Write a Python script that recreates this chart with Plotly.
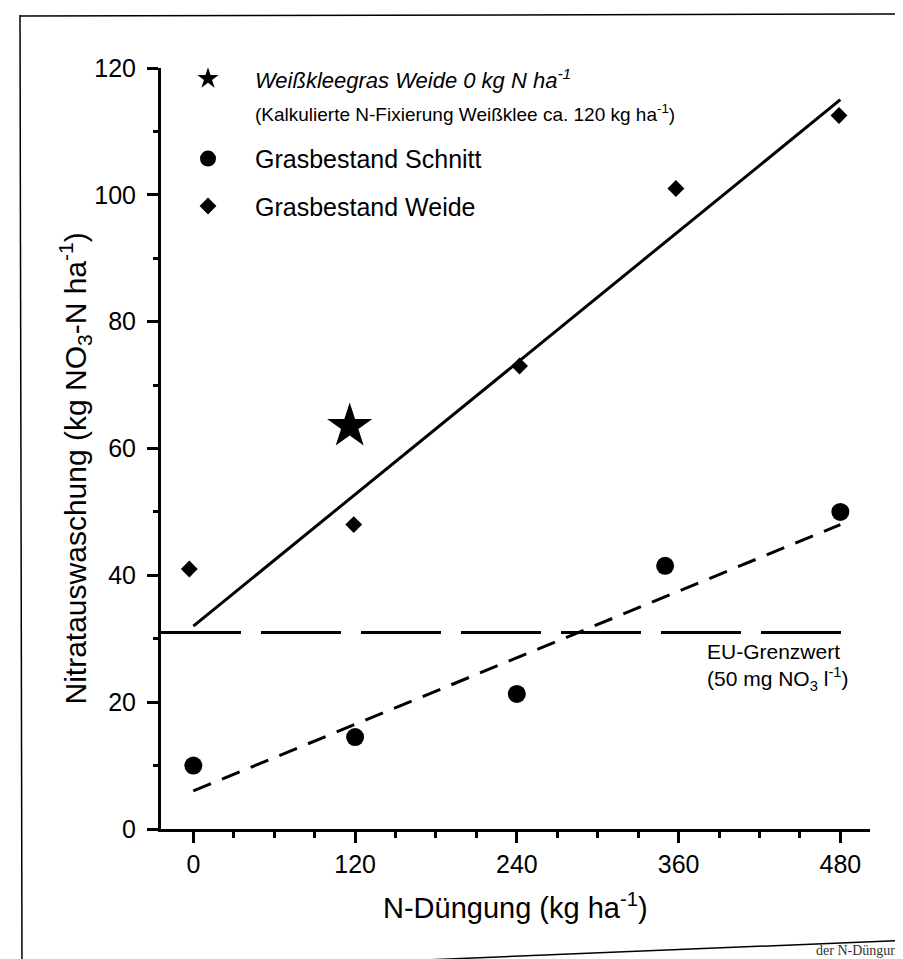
import plotly.graph_objects as go

# ---- data ----
n_duengung_schnitt = [0, 120, 240, 350, 480]
nitrat_schnitt = [10, 14.5, 21.3, 41.5, 50]

n_duengung_weide = [-3, 119, 242, 358, 479]
nitrat_weide = [41, 48, 73, 101, 112.5]

n_duengung_klee = [116]
nitrat_klee = [63.5]

fit_x = [0, 480]
fit_weide = [32, 115]
fit_schnitt = [6, 48]

eu_x = [-24, 488]
eu_y = [31, 31]

x_ticks = [0, 120, 240, 360, 480]
y_ticks = [0, 20, 40, 60, 80, 100, 120]

FONT = "Liberation Sans, Arial, sans-serif"

fig = go.Figure()

fig.add_trace(go.Scatter(x=eu_x, y=eu_y, mode="lines", showlegend=False,
                         line=dict(color="black", width=3, dash="80px,20px"),
                         hoverinfo="skip"))
fig.add_trace(go.Scatter(x=fit_x, y=fit_weide, mode="lines", showlegend=False,
                         line=dict(color="black", width=3), hoverinfo="skip"))
fig.add_trace(go.Scatter(x=fit_x, y=fit_schnitt, mode="lines", showlegend=False,
                         line=dict(color="black", width=3, dash="19px,12px"),
                         hoverinfo="skip"))

fig.add_trace(go.Scatter(
    x=n_duengung_klee, y=nitrat_klee, mode="markers", legendgroup="a",
    name="<span style='font-size:22px'><i>Weißkleegras Weide 0 kg N ha<sup>-1</sup></i></span><br>"
         "<span style='font-size:19px'>(Kalkulierte N-Fixierung Weißklee ca. 120 kg ha<sup>-1</sup>)</span>",
    marker=dict(symbol="star", size=34, color="black")))
fig.add_trace(go.Scatter(
    x=n_duengung_schnitt, y=nitrat_schnitt, mode="markers", legendgroup="b",
    name="Grasbestand Schnitt",
    marker=dict(symbol="circle", size=18, color="black")))
fig.add_trace(go.Scatter(
    x=n_duengung_weide, y=nitrat_weide, mode="markers", legendgroup="c",
    name="Grasbestand Weide",
    marker=dict(symbol="diamond", size=13, color="black")))

axis_common = dict(
    showline=True, linecolor="black", linewidth=3, mirror=False,
    ticks="outside", ticklen=11, tickwidth=3, tickcolor="black",
    showgrid=False, zeroline=False,
    tickfont=dict(family=FONT, size=25, color="black"),
)

fig.update_xaxes(range=[-24, 502], tickvals=x_ticks, ticktext=[str(v) for v in x_ticks],
                 minor=dict(dtick=30, tick0=0, ticks="outside", ticklen=6, tickwidth=3,
                            tickcolor="black", showgrid=False),
                 ticklabelstandoff=0,
                 **axis_common)
fig.update_yaxes(range=[0, 120], tickvals=y_ticks, ticktext=[str(v) for v in y_ticks],
                 minor=dict(dtick=10, tick0=0, ticks="outside", ticklen=5, tickwidth=3,
                            tickcolor="black", showgrid=False),
                 ticklabelstandoff=6,
                 **axis_common)

fig.update_layout(
    width=903, height=959,
    margin=dict(l=153, r=41, t=60, b=138),
    paper_bgcolor="white", plot_bgcolor="white",
    font=dict(family=FONT, size=25, color="black"),
    legend=dict(x=0.0, y=1.016, xanchor="left", yanchor="top",
                bgcolor="rgba(0,0,0,0)", font=dict(family=FONT, size=25, color="black"),
                tracegroupgap=12, itemwidth=84, valign="top", itemsizing="trace"),
    annotations=[
        dict(text="Nitratauswaschung (kg NO<sub>3</sub>-N ha<sup>-1</sup>)",
             xref="paper", yref="paper", x=-0.121, y=0.474, textangle=-90,
             showarrow=False, xanchor="center", yanchor="middle",
             font=dict(family=FONT, size=30, color="black")),
        dict(text="N-Düngung (kg ha<sup>-1</sup>)",
             xref="paper", yref="paper", x=0.5, y=(821 - 898) / 761,
             showarrow=False, xanchor="center", yanchor="middle",
             font=dict(family=FONT, size=29, color="black")),
        dict(text="EU-Grenzwert<br>(50 mg NO<sub>3</sub> l<sup>-1</sup>)",
             xref="paper", yref="paper", x=0.767, y=(821 - 659) / 761, align="left",
             showarrow=False, xanchor="left", yanchor="middle",
             font=dict(family=FONT, size=21, color="black")),
        dict(text="der N-Düngung",
             xref="paper", yref="paper", x=(898 - 153) / 709, y=(821 - 943) / 761, align="right",
             showarrow=False, xanchor="right", yanchor="middle",
             font=dict(family="Liberation Serif, serif", size=14, color="#333333")),
    ],
    shapes=[
        dict(type="line", xref="paper", yref="paper",
             x0=(12 - 153) / 709, x1=(14 - 153) / 709, y0=(821 - 7) / 761, y1=(821 - 962) / 761,
             line=dict(color="black", width=1.5)),
        dict(type="line", xref="paper", yref="paper",
             x0=(12 - 153) / 709, x1=(905 - 153) / 709, y0=(821 - 8) / 761, y1=(821 - 6) / 761,
             line=dict(color="black", width=1.5)),
        dict(type="line", xref="paper", yref="paper",
             x0=(270 - 153) / 709, x1=(905 - 153) / 709, y0=(821 - 958) / 761, y1=(821 - 932) / 761,
             line=dict(color="black", width=1.5)),
    ],
)

fig.write_html("out.html")
